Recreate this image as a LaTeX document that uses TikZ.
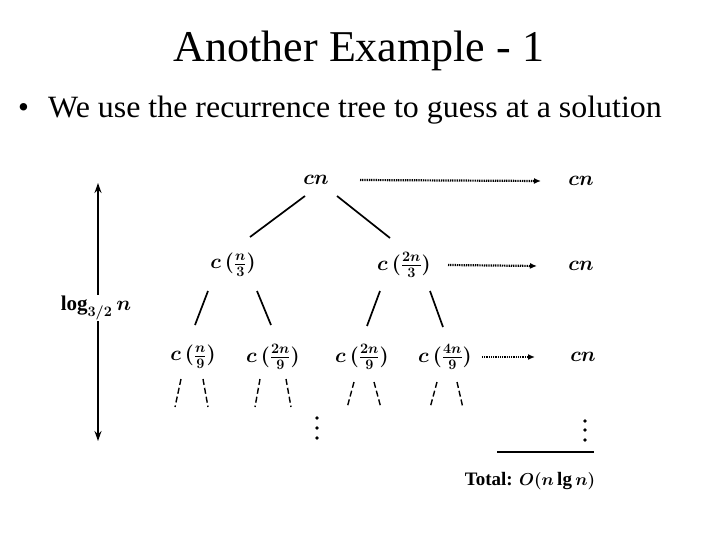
\documentclass[tikz,border=0pt]{standalone}
\usepackage{fontspec}
\setmainfont{Liberation Serif}
\usetikzlibrary{arrows.meta}
\begin{document}
\begin{tikzpicture}[x=1pt,y=-1pt,
  lbl/.style={inner sep=1pt, font=\fontsize{21}{25}\selectfont\boldmath},
  edge/.style={line width=1.7pt},
  dashedge/.style={line width=1.4pt, dash pattern=on 6pt off 3pt},
  dotarrow/.style={line width=2.2pt, dash pattern=on 1pt off 0.8pt, -{Latex[length=7pt,width=6pt]}},
  vdot/.style={fill=black}]
\useasboundingbox (0,0) rectangle (720,540);
% title and bullet
\node[font=\fontsize{44}{50}\selectfont, anchor=base] (title) at (359,62) {Another Example - 1};
\node[font=\fontsize{31}{36}\selectfont, anchor=base west, inner sep=0pt] (bul) at (18,118) {\textbullet};
\node[font=\fontsize{31}{36}\selectfont, anchor=base west, inner sep=0pt, xscale=1.03, transform shape] (sub) at (48,118) {We use the recurrence tree to guess at a solution};
% tree nodes
\node[lbl] (cn0) at (316,180) {$cn$};
\node[lbl] (n3) at (233,265) {$c\,(\frac{n}{3})$};
\node[lbl] (n23) at (404,265) {$c\,(\frac{2n}{3})$};
\node[lbl] (n9a) at (193,357) {$c\,(\frac{n}{9})$};
\node[lbl] (n9b) at (273,357) {$c\,(\frac{2n}{9})$};
\node[lbl] (n9c) at (362,357) {$c\,(\frac{2n}{9})$};
\node[lbl] (n9d) at (445,357) {$c\,(\frac{4n}{9})$};
\node[lbl] (r0) at (581,181) {$cn$};
\node[lbl] (r1) at (581,266) {$cn$};
\node[lbl] (r2) at (583,357) {$cn$};
% tree edges
\draw[edge] ([shift={(-11,16)}]cn0.center) -- ([shift={(17,-28)}]n3.center);
\draw[edge] ([shift={(21,16)}]cn0.center) -- ([shift={(-14,-27)}]n23.center);
\draw[edge] ([shift={(-25,26)}]n3.center) -- ([shift={(2,-32)}]n9a.center);
\draw[edge] ([shift={(24,26)}]n3.center) -- ([shift={(-2,-32)}]n9b.center);
\draw[edge] ([shift={(-24,26)}]n23.center) -- ([shift={(5,-31)}]n9c.center);
\draw[edge] ([shift={(26,26)}]n23.center) -- ([shift={(-2,-30)}]n9d.center);
% dashed stubs
\draw[dashedge] ([shift={(-12,22)}]n9a.center) -- ([shift={(-18,50)}]n9a.center);
\draw[dashedge] ([shift={(10,22)}]n9a.center) -- ([shift={(15,50)}]n9a.center);
\draw[dashedge] ([shift={(-13,22)}]n9b.center) -- ([shift={(-18,50)}]n9b.center);
\draw[dashedge] ([shift={(13,22)}]n9b.center) -- ([shift={(18,50)}]n9b.center);
\draw[dashedge] ([shift={(-8,25)}]n9c.center) -- ([shift={(-15,51)}]n9c.center);
\draw[dashedge] ([shift={(12,25)}]n9c.center) -- ([shift={(19,51)}]n9c.center);
\draw[dashedge] ([shift={(-8,25)}]n9d.center) -- ([shift={(-15,51)}]n9d.center);
\draw[dashedge] ([shift={(12,25)}]n9d.center) -- ([shift={(18,51)}]n9d.center);
% dotted arrows
\draw[dotarrow] ([xshift=44pt]cn0.center) -- ([xshift=-40pt]r0.center);
\draw[dotarrow] ([xshift=44pt]n23.center) -- ([xshift=-44pt]r1.center);
\draw[dotarrow] ([xshift=37pt]n9d.center) -- ([xshift=-48pt]r2.center);
% vertical dots
\fill[vdot] (317,418) circle (1.8pt) (317,428) circle (1.8pt) (317,438) circle (1.8pt);
\fill[vdot] (585,421) circle (1.8pt) (585,430) circle (1.8pt) (585,440) circle (1.8pt);
% left height arrow
\coordinate (htop) at (98,183);
\coordinate (hbot) at (98,441);
\draw[line width=1.6pt, {Stealth[length=10pt,width=7pt]}-{Stealth[length=10pt,width=7pt]}] (htop) -- (hbot);
\node[fill=white, inner sep=1pt, font=\fontsize{21}{25}\selectfont\boldmath] (hlbl) at (96,308) {$\log_{3/2} n$};
% total
\coordinate (tl) at (497,452);
\coordinate (tr) at (594,452);
\draw[line width=1.6pt] (tl) -- (tr);
\node[font=\fontsize{19}{23}\selectfont\boldmath, anchor=base] (total) at (530,485) {\textbf{Total:} $O(n\lg n)$};
\end{tikzpicture}
\end{document}
